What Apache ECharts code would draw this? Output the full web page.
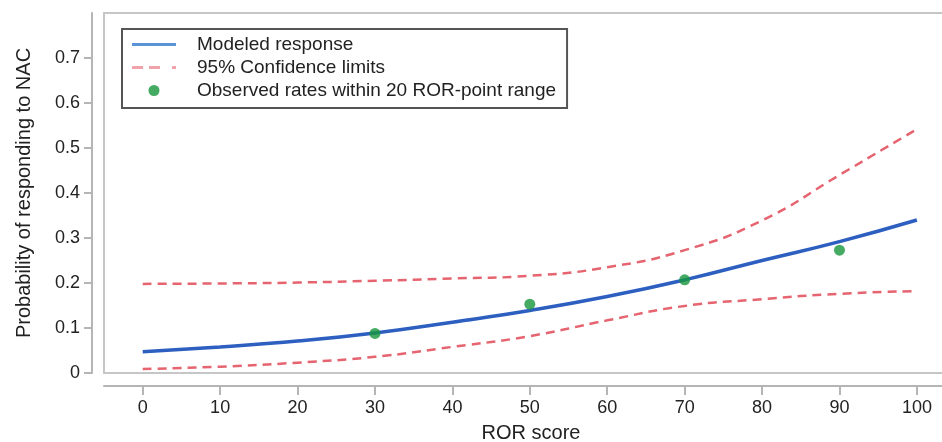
<!DOCTYPE html>
<html>
<head>
<meta charset="utf-8">
<script src="https://cdn.jsdelivr.net/npm/echarts@6/dist/echarts.min.js"></script>
<style>
  html, body { margin: 0; padding: 0; background: #fff; }
  #chart { width: 942px; height: 442px; }
</style>
</head>
<body>
<div id="chart"></div>
<script>
// ROR score grid for the modeled curve and confidence limits
var rorScores = [0, 10, 20, 30, 40, 50, 60, 70, 80, 90, 100];
var modeledResponse = [0.047, 0.058, 0.071, 0.089, 0.113, 0.139, 0.170, 0.207, 0.250, 0.292, 0.340];
var upperLimit = [0.198, 0.199, 0.201, 0.205, 0.210, 0.216, 0.235, 0.273, 0.339, 0.440, 0.542];
var lowerLimit = [0.009, 0.014, 0.023, 0.036, 0.058, 0.082, 0.117, 0.149, 0.164, 0.176, 0.182];
// Observed rates
var observedX = [30, 50, 70, 90];
var observedY = [0.088, 0.153, 0.207, 0.273];
// Tick labels
var xTicks = [0, 10, 20, 30, 40, 50, 60, 70, 80, 90, 100];
var yTicks = [0, 0.1, 0.2, 0.3, 0.4, 0.5, 0.6, 0.7];

function pairs(xs, ys) { return xs.map(function (x, i) { return [x, ys[i]]; }); }

var FONT = '"Liberation Sans", Arial, Helvetica, sans-serif';
var AX = '#b5b5b5';
var CI_NAME = '95% Confidence limits';

var chart = echarts.init(document.getElementById('chart'));
chart.setOption({
  animation: false,
  backgroundColor: '#fff',
  textStyle: { fontFamily: FONT },
  grid: {
    left: 104, top: 13, right: -2, bottom: 69,
    outerBoundsMode: 'none', containLabel: false,
    show: true, borderColor: '#c6c6c6', borderWidth: 2, backgroundColor: '#fff'
  },
  legend: {
    orient: 'vertical',
    left: 122, top: 29,
    padding: [6, 11, 8, 10],
    itemGap: 4,
    itemWidth: 44,
    itemHeight: 11,
    backgroundColor: '#fff',
    borderColor: '#555',
    borderWidth: 2,
    borderRadius: 0,
    textStyle: { fontFamily: FONT, fontSize: 19, color: '#222', padding: [0, 0, 0, 16] },
    data: [
      { name: 'Modeled response', icon: 'path://M0,0H44V3H0Z', itemStyle: { color: '#5b93d8' } },
      { name: CI_NAME, icon: 'path://M0,0H11V3H0Z M17,0H28V3H17Z M40,0H44V3H40Z', itemStyle: { color: '#f0a3aa' } },
      { name: 'Observed rates within 20 ROR-point range', icon: 'circle', itemStyle: { color: '#16963c' } }
    ]
  },
  xAxis: {
    type: 'value',
    min: -5, max: 103.5,
    offset: 13,
    name: 'ROR score',
    nameLocation: 'middle',
    nameGap: 37,
    nameTextStyle: { fontFamily: FONT, fontSize: 20, color: '#222', padding: [0, 0, 0, 14] },
    axisLine: { show: true, onZero: false, lineStyle: { color: AX, width: 2 } },
    axisTick: { show: true, length: 9, customValues: xTicks, lineStyle: { color: AX, width: 2 } },
    axisLabel: { customValues: xTicks, margin: 13, fontFamily: FONT, fontSize: 18, color: '#222' },
    splitLine: { show: false }
  },
  yAxis: {
    type: 'value',
    min: 0, max: 0.8,
    offset: 12,
    name: 'Probability of responding to NAC',
    nameLocation: 'middle',
    nameGap: 58,
    nameTextStyle: { fontFamily: FONT, fontSize: 20, color: '#222' },
    axisLine: { show: true, onZero: false, lineStyle: { color: AX, width: 2 } },
    axisTick: { show: true, length: 8, customValues: yTicks, lineStyle: { color: AX, width: 2 } },
    axisLabel: {
      customValues: yTicks, margin: 12, fontFamily: FONT, fontSize: 18, color: '#222',
      formatter: function (v) { return String(+v.toFixed(1)); }
    },
    splitLine: { show: false }
  },
  series: [
    {
      name: CI_NAME, type: 'line', symbol: 'none', smooth: 0.5,
      data: pairs(rorScores, upperLimit),
      lineStyle: { color: '#e5646f', width: 2.5, type: [9, 6] },
      itemStyle: { color: '#e5646f' }, z: 2
    },
    {
      name: CI_NAME, type: 'line', symbol: 'none', smooth: 0.5,
      data: pairs(rorScores, lowerLimit),
      lineStyle: { color: '#e5646f', width: 2.5, type: [9, 6] },
      itemStyle: { color: '#e5646f' }, z: 2
    },
    {
      name: 'Modeled response', type: 'line', symbol: 'none', smooth: 0.5,
      data: pairs(rorScores, modeledResponse),
      lineStyle: { color: '#2d5fc0', width: 3.5 },
      itemStyle: { color: '#4a8ad8' }, z: 3
    },
    {
      name: 'Observed rates within 20 ROR-point range', type: 'scatter',
      symbol: 'circle', symbolSize: 11,
      data: pairs(observedX, observedY),
      itemStyle: { color: '#16963c' }, z: 4
    }
  ]
});
</script>
</body>
</html>
